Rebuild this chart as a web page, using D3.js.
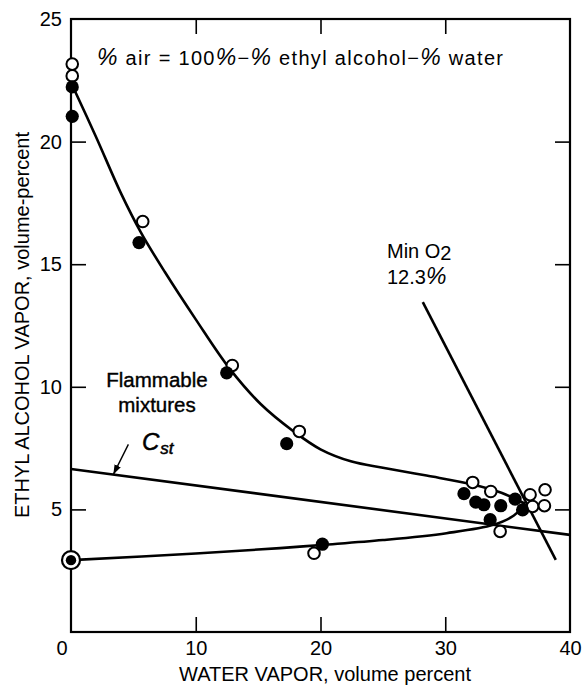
<!DOCTYPE html>
<html><head><meta charset="utf-8">
<script src="https://cdn.jsdelivr.net/npm/d3@7"></script>
<style>
body{margin:0;background:#fff;}
svg text{font-family:"Liberation Sans",Arial,Helvetica,sans-serif;fill:#000;}
</style></head>
<body><svg id="c" width="585" height="690"></svg>
<script>
// ---- data ----
const xTicks = [10, 20, 30, 40];
const yTicks = [5, 10, 15, 20, 25];
const xDomain = [0, 40];
const yDomain = [0, 25];
const upperLimit = [[0.1,22.3],[2,20.2],[4,17.9],[5.6,16.3],[7.5,14.7],[10,12.75],[12.7,10.75],[15.2,9.3],[17.8,8.2],[20,7.45],[22.5,6.95],[25,6.7],[28.5,6.38],[32.2,6.02],[34.5,5.68],[36.4,5.23]];
const lowerLimit = [[0,2.93],[10,3.2],[16.76,3.42],[20.1,3.55],[25,3.75],[30.1,4.03],[33.86,4.37],[35.5,4.75],[36.4,5.23]];
const cstLine = [[0,6.65],[40,3.96]];
const minO2Line = [[28.2,13.45],[38.86,2.94]];
const openPoints = [[0.1,23.16],[0.1,22.68],[5.75,16.74],[12.93,10.87],[18.3,8.18],[19.48,3.21],[32.2,6.1],[33.65,5.73],[36.8,5.6],[38.0,5.8],[37.0,5.12],[37.95,5.15],[34.4,4.1]];
const filledPoints = [[0.1,22.23],[0.1,21.03],[5.45,15.88],[12.48,10.57],[17.29,7.68],[20.15,3.58],[31.5,5.64],[32.45,5.3],[33.1,5.19],[34.45,5.15],[35.6,5.42],[36.2,4.98],[33.6,4.58]];
const stoichPoint = [[0,2.93]];
const cstArrow = [[4.6,7.65],[3.39,6.42]];

// ---- chart ----
const svg = d3.select("#c");
const L = 71, R = 570, T = 19, B = 632;
const x = d3.scaleLinear().domain(xDomain).range([L, R]);
const y = d3.scaleLinear().domain(yDomain).range([B, T]);

svg.append("defs").append("marker").attr("id","ah").attr("viewBox","0 0 10 10")
  .attr("refX",10).attr("refY",5).attr("markerWidth",7).attr("markerHeight",7)
  .attr("orient","auto").append("path").attr("d","M0,1.5L10,5L0,8.5Z").attr("fill","#000");

function styleAxis(g){ g.select(".domain").remove(); g.selectAll("line").attr("stroke","#000").attr("stroke-width",1.6);
  g.selectAll("text").style("font-size","20px").attr("fill","#000"); }
svg.append("g").attr("transform",`translate(0,${B})`)
  .call(d3.axisBottom(x).tickValues(xTicks).tickSize(-15).tickPadding(9).tickFormat(d3.format("d")))
  .call(styleAxis);
svg.append("g").attr("transform",`translate(0,${T})`)
  .call(d3.axisTop(x).tickValues([10,20,30]).tickSize(-15).tickFormat(""))
  .call(styleAxis);
svg.append("g").attr("transform",`translate(${L},0)`)
  .call(d3.axisLeft(y).tickValues(yTicks).tickSize(-15).tickPadding(9).tickFormat(d3.format("d")))
  .call(styleAxis);
svg.append("g").attr("transform",`translate(${R},0)`)
  .call(d3.axisRight(y).tickValues([5,10,15,20]).tickSize(-15).tickFormat(""))
  .call(styleAxis);
svg.selectAll("g.tick").filter(d=>d===40||d===25).select("line").remove();
svg.append("text").attr("x",62).attr("y",655).attr("text-anchor","middle").style("font-size","20px").text("0");

svg.append("rect").attr("x",L).attr("y",T).attr("width",R-L).attr("height",B-T)
  .attr("fill","none").attr("stroke","#000").attr("stroke-width",2.2);

const line = d3.line().x(d=>x(d[0])).y(d=>y(d[1]));
const curve = d3.line().x(d=>x(d[0])).y(d=>y(d[1])).curve(d3.curveCatmullRom.alpha(0.5));
svg.append("path").datum(upperLimit).attr("d",curve).attr("fill","none").attr("stroke","#000").attr("stroke-width",2.6);
svg.append("path").datum(lowerLimit).attr("d",curve).attr("fill","none").attr("stroke","#000").attr("stroke-width",2.6);
svg.append("path").datum(cstLine).attr("d",line).attr("fill","none").attr("stroke","#000").attr("stroke-width",2.6);
svg.append("path").datum(minO2Line).attr("d",line).attr("fill","none").attr("stroke","#000").attr("stroke-width",2.6);
svg.append("path").datum(cstArrow).attr("d",line).attr("fill","none").attr("stroke","#000").attr("stroke-width",1.4).attr("marker-end","url(#ah)");

svg.selectAll("circle.open").data(openPoints).join("circle").attr("class","open")
  .attr("cx",d=>x(d[0])).attr("cy",d=>y(d[1])).attr("r",5.8).attr("fill","#fff").attr("stroke","#000").attr("stroke-width",2);
svg.selectAll("circle.fill").data(filledPoints).join("circle").attr("class","fill")
  .attr("cx",d=>x(d[0])).attr("cy",d=>y(d[1])).attr("r",6.6).attr("fill","#000");
stoichPoint.forEach(d=>{
  svg.append("circle").attr("cx",x(d[0])).attr("cy",y(d[1])).attr("r",9).attr("fill","#fff").attr("stroke","#000").attr("stroke-width",2.2);
  svg.append("circle").attr("cx",x(d[0])).attr("cy",y(d[1])).attr("r",5.2).attr("fill","#000");
});

const ann = svg.append("text").attr("x",97).attr("y",65).style("font-size","20px")
  .attr("textLength",406).attr("lengthAdjust","spacing");
ann.append("tspan").style("font-style","italic").style("font-size","23px").text("%");
ann.append("tspan").text(" air = 100");
ann.append("tspan").style("font-style","italic").style("font-size","23px").text("%");
ann.append("tspan").text("\u2212");
ann.append("tspan").style("font-style","italic").style("font-size","23px").text("%");
ann.append("tspan").text(" ethyl alcohol\u2212");
ann.append("tspan").style("font-style","italic").style("font-size","23px").text("%");
ann.append("tspan").text(" water");

const mo = svg.append("text").attr("x",387).attr("y",258).style("font-size","20px");
mo.append("tspan").text("Min O");
mo.append("tspan").attr("dy",2).text("2");
const mo2 = svg.append("text").attr("x",387).attr("y",284).style("font-size","20px");
mo2.append("tspan").text("12.3");
mo2.append("tspan").style("font-style","italic").style("font-size","23px").text("%");

svg.append("text").attr("x",157).attr("y",387).attr("text-anchor","middle").style("font-size","20.5px").attr("stroke","#000").attr("stroke-width",0.4).text("Flammable");
svg.append("text").attr("x",157).attr("y",412).attr("text-anchor","middle").style("font-size","20.5px").attr("stroke","#000").attr("stroke-width",0.4).text("mixtures");

const cst = svg.append("text").attr("x",142).attr("y",450).style("font-style","italic").style("font-size","24px").attr("stroke","#000").attr("stroke-width",0.5);
cst.append("tspan").text("C");
cst.append("tspan").attr("dy",4).attr("dx",1).style("font-size","17px").text("st");

svg.append("text").attr("x",325).attr("y",681).attr("text-anchor","middle").style("font-size","20px").text("WATER VAPOR, volume percent");
svg.append("text").attr("transform","translate(29,325) rotate(-90)").attr("text-anchor","middle").style("font-size","20px").text("ETHYL ALCOHOL VAPOR, volume-percent");
</script></body></html>
